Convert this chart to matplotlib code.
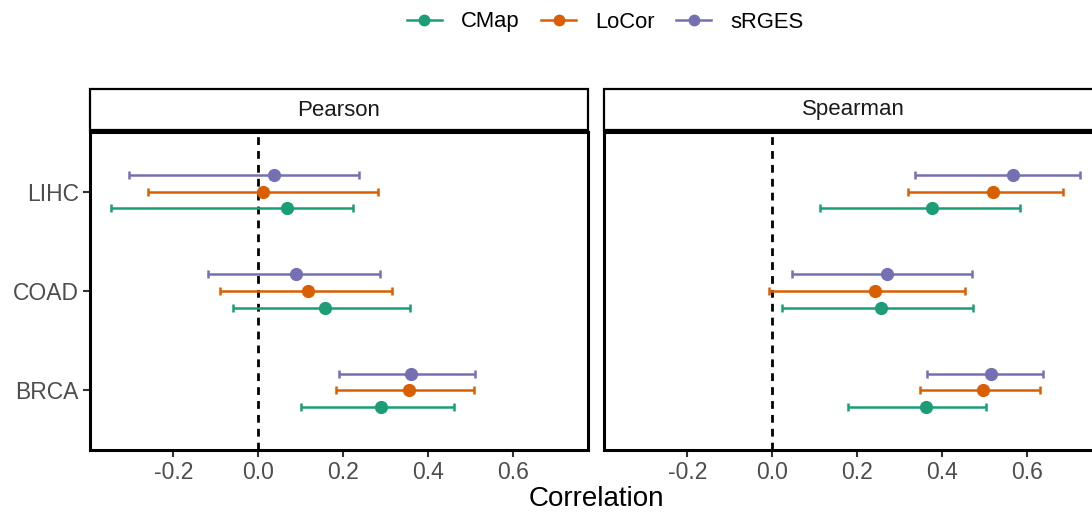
"""forest plot of correlations: Pearson vs Spearman, three methods"""
import matplotlib
matplotlib.use('Agg')
import matplotlib.pyplot as plt
from matplotlib.lines import Line2D
from matplotlib.patches import Rectangle

plt.rcParams['font.family'] = ['Liberation Sans', 'DejaVu Sans']

cancers = ['BRCA', 'COAD', 'LIHC']
methods = ['CMap', 'LoCor', 'sRGES']
colors = ['#1B9E77', '#D95F02', '#7570B3']
panels = ['Pearson', 'Spearman']

# estimate, lower, upper per method, order: BRCA, COAD, LIHC
pearson_est = {'CMap': [0.290, 0.156, 0.067],
               'LoCor': [0.355, 0.117, 0.011],
               'sRGES': [0.360, 0.088, 0.037]}
pearson_lo = {'CMap': [0.100, -0.060, -0.346],
              'LoCor': [0.184, -0.090, -0.260],
              'sRGES': [0.189, -0.119, -0.304]}
pearson_hi = {'CMap': [0.461, 0.358, 0.224],
              'LoCor': [0.507, 0.315, 0.282],
              'sRGES': [0.511, 0.287, 0.238]}

spearman_est = {'CMap': [0.362, 0.255, 0.377],
                'LoCor': [0.497, 0.242, 0.519],
                'sRGES': [0.514, 0.269, 0.567]}
spearman_lo = {'CMap': [0.178, 0.022, 0.112],
               'LoCor': [0.348, -0.008, 0.319],
               'sRGES': [0.365, 0.046, 0.337]}
spearman_hi = {'CMap': [0.502, 0.473, 0.582],
               'LoCor': [0.630, 0.454, 0.685],
               'sRGES': [0.638, 0.469, 0.725]}

data = {'Pearson': (pearson_est, pearson_lo, pearson_hi),
        'Spearman': (spearman_est, spearman_lo, spearman_hi)}

fig = plt.figure(figsize=(10.92, 5.14), dpi=100)
fig.patch.set_facecolor('white')

W, H = 1092.0, 514.0
left_px = [90, 604]
panel_w = 498
top_px, bot_px = 132, 450
dodge = [-1/6, 0, 1/6]

for k, name in enumerate(panels):
    x0 = left_px[k] / W
    ax = fig.add_axes([x0, 1 - bot_px / H, panel_w / W, (bot_px - top_px) / H])
    est, lo, hi = data[name]
    for m, col, d in zip(methods, colors, dodge):
        ys = [i + 1 + d for i in range(len(cancers))]
        e = est[m]
        ax.errorbar(e, ys, xerr=[[a - b for a, b in zip(e, lo[m])],
                                 [b - a for a, b in zip(e, hi[m])]],
                    fmt='o', color=col, ecolor=col, ms=8.5, elinewidth=1.8,
                    capsize=3, capthick=1.8, zorder=3)
    ax.axvline(0, color='black', ls=(0, (2.8, 2.2)), lw=2.0, zorder=2)
    ax.set_xlim(-0.396, 0.776)
    ax.set_ylim(0.4, 3.6)
    ax.set_xticks([-0.2, 0.0, 0.2, 0.4, 0.6])
    ax.set_xticklabels(['-0.2', '0.0', '0.2', '0.4', '0.6'])
    ax.set_yticks([1, 2, 3])
    ax.tick_params(labelsize=16.5, colors='#4D4D4D', length=5, width=1.5,
                   pad=3)
    ax.tick_params(axis='both', color='#333333')
    if k == 0:
        ax.set_yticklabels(cancers)
    else:
        ax.set_yticklabels([])
        ax.tick_params(axis='y', length=0)
    for s in ax.spines.values():
        s.set_linewidth(2.2)
        s.set_color('black')
    # strip on top
    sx = left_px[k] / W
    rect = Rectangle((sx, 1 - 130 / H), panel_w / W, 41 / H,
                     transform=fig.transFigure, facecolor='white',
                     edgecolor='black', lw=1.6, clip_on=False)
    fig.add_artist(rect)
    fig.text(sx + panel_w / W / 2, 1 - 110 / H, name, ha='center',
             va='center', fontsize=16, color='#1A1A1A')

fig.text(596 / W, 1 - 512 / H, 'Correlation', ha='center', va='bottom',
         fontsize=20, color='black')

handles = [Line2D([0], [0], color=c, marker='o', ms=7.5, lw=1.8) for c in colors]
fig.legend(handles, methods, loc='center', bbox_to_anchor=(605 / W, 1 - 22 / H),
           ncol=3, frameon=False, fontsize=15.8, handlelength=1.6,
           columnspacing=1.0, handletextpad=0.85)

fig.savefig('out.png', dpi=100)
